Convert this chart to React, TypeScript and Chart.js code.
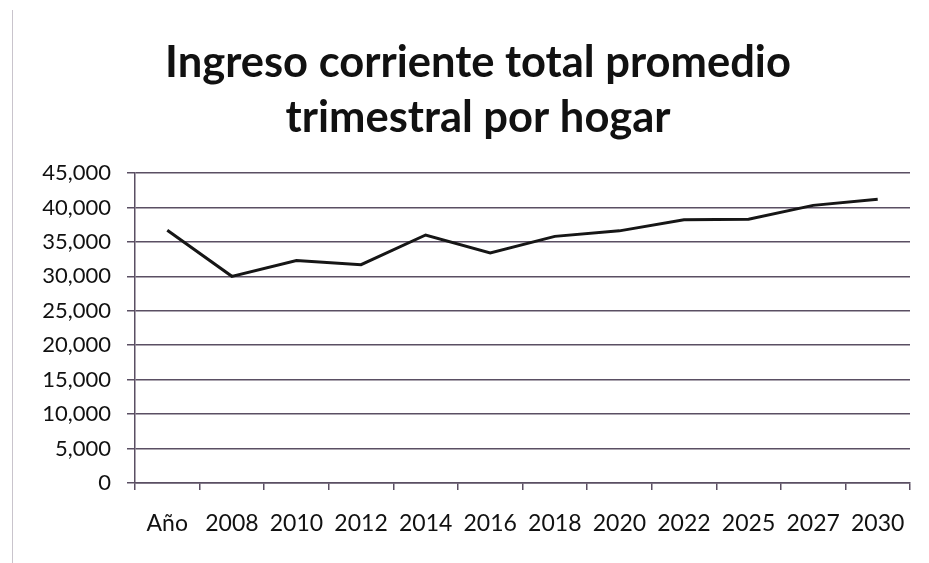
import React, { useEffect, useRef } from "react";
import { Chart, registerables } from "chart.js";

Chart.register(...registerables);

const titleLines = ["Ingreso corriente total promedio", "trimestral por hogar"];
const categories = ["Año", "2008", "2010", "2012", "2014", "2016", "2018", "2020", "2022", "2025", "2027", "2030"];
const ingreso = [36700, 30000, 32300, 31700, 36000, 33400, 35800, 36600, 38200, 38300, 40300, 41200];
const yMin = 0;
const yMax = 45000;
const yStep = 5000;

const FONT = "Lato, 'Open Sans', sans-serif";
const GRID = "#5a4f63";

const titlePlugin = {
  id: "offsetTitle",
  afterDraw(chart: any) {
    const ctx = chart.ctx;
    ctx.save();
    ctx.fillStyle = "#111";
    ctx.font = `bold 43.5px ${FONT}`;
    ctx.textAlign = "center";
    ctx.textBaseline = "middle";
    const cx = 478;
    titleLines.forEach((line, i) => {
      ctx.fillText(line, cx, 63 + i * 55);
    });
    ctx.restore();
  },
};

export default function App() {
  const ref = useRef<HTMLCanvasElement | null>(null);

  useEffect(() => {
    if (!ref.current) return;
    const chart = new Chart(ref.current, {
      type: "line",
      data: {
        labels: categories,
        datasets: [
          {
            data: ingreso,
            borderColor: "#161616",
            borderWidth: 3,
            pointRadius: 0,
            tension: 0,
            fill: false,
          },
        ],
      },
      options: {
        responsive: false,
        animation: false,
        devicePixelRatio: 1,
        layout: { padding: { left: 12, right: 19, top: 173, bottom: 0 } },
        plugins: {
          legend: { display: false },
          tooltip: { enabled: false },
          title: { display: false },
        },
        scales: {
          x: {
            offset: true,
            grid: {
              offset: true,
              drawOnChartArea: false,
              drawTicks: true,
              tickLength: 7,
              color: GRID,
              lineWidth: 1.5,
            },
            border: { display: true, color: GRID, width: 1.5 },
            ticks: {
              color: "#111",
              font: { family: FONT, size: 23 },
              padding: 20,
              maxRotation: 0,
              autoSkip: false,
            },
            afterFit: (s: any) => {
              s.height = 80;
            },
          },
          y: {
            min: yMin,
            max: yMax,
            ticks: {
              stepSize: yStep,
              color: "#111",
              font: { family: FONT, size: 22 },
              padding: 16,
              callback: (v: any) => Number(v).toLocaleString("en-US"),
            },
            grid: {
              color: GRID,
              lineWidth: 1.5,
              tickLength: 8,
            },
            border: { display: true, color: GRID, width: 1.5 },
            afterFit: (s: any) => {
              s.width = 123;
            },
          },
        },
      },
      plugins: [titlePlugin],
    });
    return () => chart.destroy();
  }, []);

  return (
    <div style={{ position: "absolute", left: 0, top: 0, width: 929, height: 563, background: "#fff" }}>
      <div style={{ position: "absolute", left: 12, top: 10, width: 1, height: 553, background: "#c9c4cc" }} />
      <canvas ref={ref} width={929} height={563} style={{ position: "absolute", left: 0, top: 0 }} />
    </div>
  );
}
